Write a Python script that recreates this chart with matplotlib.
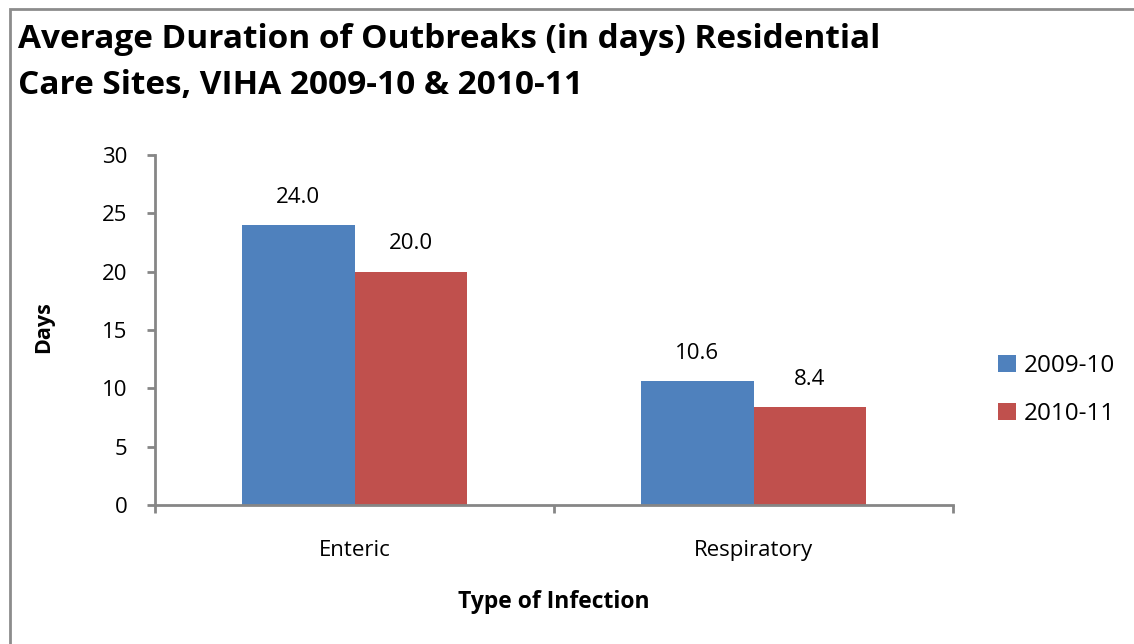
import matplotlib
matplotlib.use("Agg")
import matplotlib.pyplot as plt
import numpy as np
from matplotlib.patches import Rectangle

categories = ["Enteric", "Respiratory"]
years = ["2009-10", "2010-11"]
vals_0910 = [24.0, 10.6]
vals_1011 = [20.0, 8.4]

BLUE, RED, GREY = "#4f81bd", "#c0504d", "#868686"
FONT = "Open Sans"
plt.rcParams["font.family"] = [FONT, "DejaVu Sans"]
FS = 16

fig = plt.figure(figsize=(11.34, 6.44), dpi=100)
fig.patch.set_facecolor("white")

# outer chart frame (only left/top edges visible in the crop)
fig.patches.append(Rectangle((10 / 1134, -0.1), 1.2, (644 - 9) / 644 + 0.1,
                             transform=fig.transFigure, fill=False,
                             edgecolor="#8c8c8c", linewidth=2, zorder=0))

ax = fig.add_axes([155 / 1134, 139 / 644, 798 / 1134, 350 / 644])
x = np.arange(len(categories))
w = 0.283
b1 = ax.bar(x - w / 2, vals_0910, w, color=BLUE, label=years[0], zorder=2)
b2 = ax.bar(x + w / 2, vals_1011, w, color=RED, label=years[1], zorder=2)

for bars in (b1, b2):
    for r in bars:
        ax.annotate(f"{r.get_height():.1f}", (r.get_x() + r.get_width() / 2, r.get_height()),
                    xytext=(0, 20), textcoords="offset points", ha="center", va="center",
                    fontsize=FS, color="black")

ax.set_xlim(-0.5, 1.5)
ax.set_ylim(0, 30)
ax.set_yticks(range(0, 31, 5))
ax.set_xticks([-0.5, 0.5, 1.5])
ax.set_xticklabels([])
ax.set_xticks(x, minor=True)
ax.set_xticklabels(categories, minor=True)
ax.tick_params(axis="x", which="minor", length=0, pad=25, labelsize=FS)
ax.tick_params(axis="x", which="major", length=6, width=2, color=GREY)
ax.tick_params(axis="y", length=6, width=2, color=GREY, labelsize=FS, pad=14)

for s in ("top", "right"):
    ax.spines[s].set_visible(False)
for s in ("left", "bottom"):
    ax.spines[s].set_color(GREY)
    ax.spines[s].set_linewidth(2)

ax.set_ylabel("Days", fontsize=15.5, fontweight="bold", va="center")
ax.yaxis.set_label_coords(-0.139, 0.509)
ax.set_xlabel("Type of Infection", fontsize=16.5, fontweight="bold", va="center")
ax.xaxis.set_label_coords(0.5, -0.277)

fig.text(18 / 1134, 1 - 40 / 644, "Average Duration of Outbreaks (in days) Residential",
         fontsize=24, fontweight="bold", va="center", ha="left")
fig.text(18 / 1134, 1 - 86 / 644, "Care Sites, VIHA 2009-10 & 2010-11",
         fontsize=24, fontweight="bold", va="center", ha="left")

fig.legend(handles=[b1, b2], labels=years, loc="center left",
           bbox_to_anchor=(976 / 1134, 1 - 390 / 644), frameon=False,
           fontsize=17.5, handlelength=0.75, handleheight=0.7, handletextpad=0.3,
           labelspacing=0.95)

fig.savefig("out.png", dpi=100, facecolor="white")
